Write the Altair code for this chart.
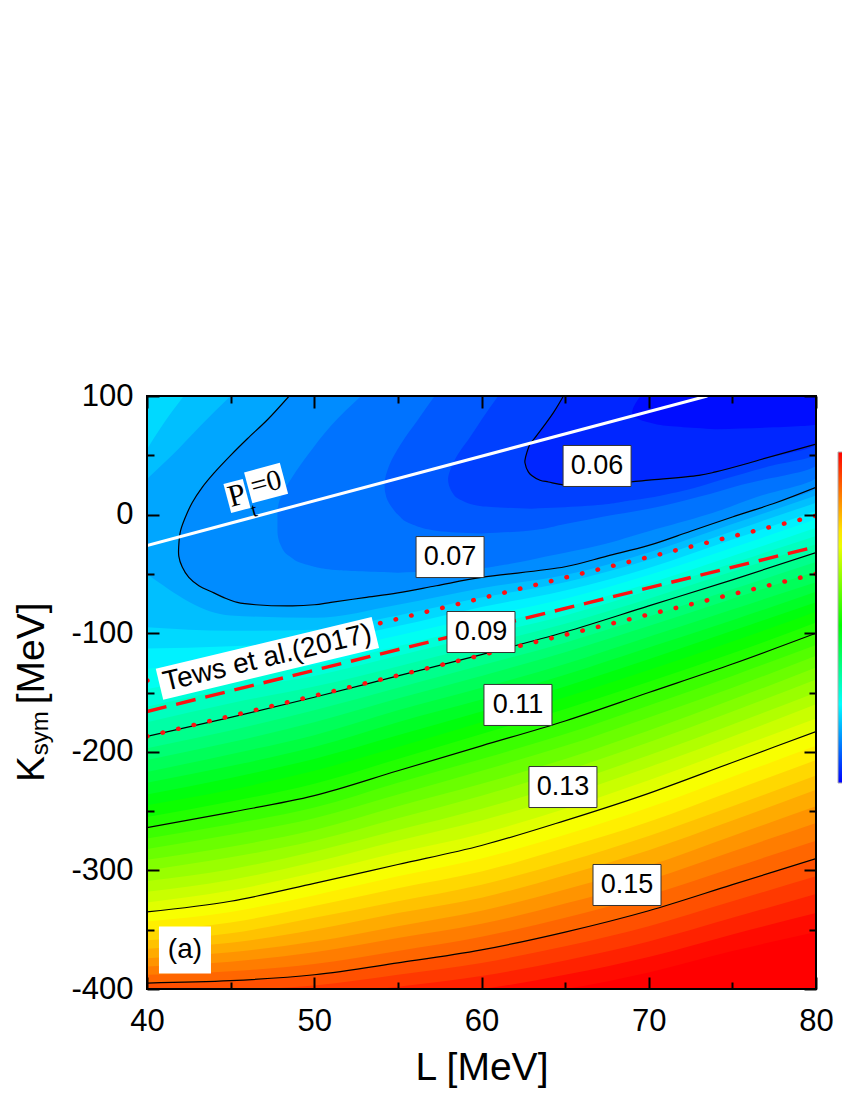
import altair as alt
import pandas as pd

FONT = "Liberation Sans"
SERIF = "Liberation Serif"

# ---------------- axes ----------------
L_range = [40, 80]
K_range = [-400, 100]
L_major = [40, 50, 60, 70, 80]
L_minor = [45, 55, 65, 75]
K_major = [-400, -300, -200, -100, 0, 100]
K_minor = [-350, -250, -150, -50, 50]

# ---------------- level lines: Ksym read at each L of L_grid ----------------
L_grid = [40, 45, 50, 55, 60, 65, 70, 75, 80]
K_0725 = [-50, -85, -87, -76, -62, -51, -32, -8, 16]
K_0750 = [-95, -98, -97, -85, -70, -57, -38, -14, 10]
K_0775 = [-113, -111, -107, -94, -78, -64, -45, -21, 3]
K_0800 = [-130, -123, -117, -102, -86, -71, -51, -28, -4]
K_0825 = [-147, -135, -127, -111, -94, -78, -58, -35, -11]
K_0850 = [-162, -147, -136, -119, -102, -85, -64, -41, -18]
K_0875 = [-175, -159, -145, -128, -110, -92, -71, -48, -25]
K_0900 = [-187, -171, -154, -136, -118, -99, -77, -55, -32]
K_0925 = [-197, -182, -165, -146, -127, -108, -86, -63, -40]
K_0950 = [-207, -192, -175, -155, -136, -116, -94, -71, -48]
K_0975 = [-217, -202, -186, -165, -146, -126, -103, -80, -57]
K_1000 = [-226, -212, -196, -175, -156, -135, -112, -89, -65]
K_1025 = [-236, -222, -206, -186, -166, -145, -122, -98, -74]
K_1050 = [-245, -232, -216, -196, -175, -154, -131, -107, -82]
K_1075 = [-255, -242, -227, -206, -185, -164, -141, -117, -91]
K_1100 = [-264, -251, -237, -216, -195, -174, -150, -126, -100]
K_1125 = [-273, -261, -247, -226, -206, -185, -161, -136, -110]
K_1150 = [-282, -270, -256, -236, -216, -195, -171, -146, -119]
K_1175 = [-291, -280, -266, -246, -227, -206, -182, -156, -129]
K_1200 = [-300, -289, -275, -256, -237, -216, -192, -166, -139]
K_1225 = [-309, -299, -284, -266, -248, -227, -203, -177, -150]
K_1250 = [-318, -308, -293, -275, -258, -237, -213, -187, -160]
K_1275 = [-327, -317, -302, -285, -269, -248, -224, -198, -172]
K_1300 = [-335, -326, -311, -295, -279, -258, -235, -209, -183]
K_1325 = [-343, -335, -321, -305, -290, -270, -247, -221, -195]
K_1350 = [-351, -344, -330, -315, -301, -281, -259, -233, -207]
K_1375 = [-359, -353, -340, -326, -312, -293, -271, -246, -220]
K_1400 = [-366, -361, -350, -336, -323, -304, -283, -258, -232]
K_1425 = [-374, -369, -360, -347, -334, -316, -296, -271, -246]
K_1450 = [-381, -377, -369, -357, -345, -328, -308, -284, -260]
K_1475 = [-388, -385, -379, -368, -356, -340, -321, -298, -275]
K_1500 = [-395, -393, -388, -378, -367, -352, -334, -312, -290]
K_1525 = [-402, -401, -397, -388, -378, -364, -347, -326, -305]
K_1550 = [-409, -409, -405, -398, -389, -376, -360, -340, -320]
K_1575 = [-417, -416, -412, -406, -400, -388, -373, -354, -336]
K_1600 = [-425, -423, -418, -414, -410, -400, -386, -368, -352]
K_1625 = [-440, -438, -432, -428, -424, -414, -399, -382, -368]
K_1650 = [-455, -452, -447, -443, -438, -428, -412, -396, -385]

levels = [0.0725, 0.0750, 0.0775, 0.0800, 0.0825, 0.0850, 0.0875, 0.0900, 0.0925, 0.0950,
          0.0975, 0.1000, 0.1025, 0.1050, 0.1075, 0.1100, 0.1125, 0.1150, 0.1175, 0.1200,
          0.1225, 0.1250, 0.1275, 0.1300, 0.1325, 0.1350, 0.1375, 0.1400, 0.1425, 0.1450,
          0.1475, 0.1500, 0.1525, 0.1550, 0.1575, 0.1600, 0.1625, 0.1650]
level_lines = [K_0725, K_0750, K_0775, K_0800, K_0825, K_0850, K_0875, K_0900, K_0925, K_0950,
               K_0975, K_1000, K_1025, K_1050, K_1075, K_1100, K_1125, K_1150, K_1175, K_1200,
               K_1225, K_1250, K_1275, K_1300, K_1325, K_1350, K_1375, K_1400, K_1425, K_1450,
               K_1475, K_1500, K_1525, K_1550, K_1575, K_1600, K_1625, K_1650]
step = 0.0025
drawn_levels = [0.090, 0.110, 0.130, 0.150]

# ---------------- valley regions: rows of Ksym with left / right L bounds ----------------
c0700_K = [-77, -76, -74, -70, -66, -60, -53, -44, -35, -26, -14, -2, 10, 23, 35, 50, 64, 80, 100]
c0700_L1 = [48.7, 46.5, 45.4, 44.6, 44.0, 43.1, 42.5, 42.1, 41.9, 41.9, 42.0, 42.3, 42.7, 43.3, 44.0, 45.0, 46.0, 47.2, 48.5]
c0700_L2 = [48.7, 50.0, 51.0, 53.0, 55.0, 57.3, 60.0, 65.0, 67.5, 70.0, 72.5, 75.0, 77.6, 80.0, 80.0, 80.0, 80.0, 80.0, 80.0]

c0675_K = [-49, -47, -42, -35, -26, -14, 0, 15, 32, 50, 75, 100]
c0675_L1 = [55.0, 51.5, 49.5, 48.5, 48.0, 47.8, 47.8, 48.0, 48.7, 49.6, 51.0, 52.8]
c0675_L2 = [55.0, 58.5, 61.5, 64.0, 67.0, 70.0, 73.5, 76.5, 80.0, 80.0, 80.0, 80.0]

c0650_K = [-16, -14, -8, 0, 5, 15, 25, 42, 60, 80, 100]
c0650_L1 = [60.0, 57.5, 55.8, 55.0, 54.7, 54.3, 54.2, 54.5, 55.2, 56.2, 57.2]
c0650_L2 = [60.0, 62.5, 65.0, 68.0, 70.0, 73.0, 75.5, 80.0, 80.0, 80.0, 80.0]

c0625_K = [5, 7, 12, 20, 30, 40, 51, 65, 80, 100]
c0625_L1 = [63.0, 60.0, 58.8, 58.2, 58.0, 58.2, 58.6, 59.3, 60.0, 61.0]
c0625_L2 = [63.0, 66.0, 69.0, 72.0, 74.5, 77.0, 80.0, 80.0, 80.0, 80.0]

c0600_K = [24, 25, 27.5, 29, 33, 36, 43.5, 46, 59.5, 63, 86, 100]
c0600_L1 = [66.5, 64.9, 64.0, 63.5, 63.0, 62.8, 62.6, 62.6, 62.9, 63.1, 64.3, 64.9]
c0600_L2 = [66.5, 67.5, 68.9, 70.0, 73.0, 74.0, 76.0, 76.6, 80.0, 80.0, 80.0, 80.0]

c0575_K = [72, 76, 85, 100]
c0575_L1 = [74.0, 70.5, 69.0, 69.5]
c0575_L2 = [74.0, 80.0, 80.0, 80.0]

# top-left corner (values above 0.0725 / 0.075 next to the left edge)
tl0725_K = [30, 50, 75, 100]
tl0725_L1 = [40.0, 40.0, 40.0, 40.0]
tl0725_L2 = [40.0, 41.5, 43.2, 45.0]
tl0750_K = [55, 75, 100]
tl0750_L1 = [40.0, 40.0, 40.0]
tl0750_L2 = [40.0, 40.9, 42.2]

# ---------------- straight lines ----------------
line_L = [40, 80]
tews_mid = [-166, -27]
tews_up = [-140, -1]
tews_lo = [-187, -50]
pt0_L = [40, 73.5]
pt0_K = [-26, 100]

# ---------------- labels ----------------
contour_text = ["0.06", "0.07", "0.09", "0.11", "0.13", "0.15"]
contour_text_L = [66.91, 58.12, 59.97, 62.18, 64.87, 68.70]
contour_text_K = [41.0, -35.8, -99.0, -160.5, -229.7, -312.3]

# ---------------- colour map ----------------
color_stops = [0.055, 0.080, 0.105, 0.132, 0.160]
color_range = ["#0000ff", "#00ffff", "#00ff00", "#ffff00", "#ff0000"]

# ================= scales & axes =================
xs = alt.Scale(domain=L_range, nice=False, zero=False)
ys = alt.Scale(domain=K_range, nice=False, zero=False)
cs = alt.Scale(domain=color_stops, range=color_range, interpolate="rgb")


def tick_axis(orient, vals, size):
    return alt.Axis(orient=orient, values=vals, tickSize=size, offset=-size, labels=False,
                    domain=False, grid=False, title=None, ticks=True, tickColor="black",
                    tickWidth=2, zindex=3)


ax_x_lab = alt.Axis(orient="bottom", values=L_major, ticks=False, tickSize=0, domain=False, grid=False,
                    labelFont=FONT, labelFontSize=31, labelColor="black", labelPadding=17,
                    labelFlush=False, labelOverlap=False, labelExpr="datum.value + ''",
                    title="L [MeV]", titleFont=FONT, titleFontSize=39, titleFontWeight="normal",
                    titleColor="black", titlePadding=12, zindex=3)
ax_y_lab = alt.Axis(orient="left", values=K_major, ticks=False, tickSize=0, domain=False, grid=False,
                    labelFont=FONT, labelFontSize=31, labelColor="black", labelPadding=14,
                    labelFlush=False, labelOverlap=False, labelExpr="datum.value + ''",
                    title=None, zindex=3)

NOAX = None
X = lambda f, ax=NOAX: alt.X(f, scale=xs, axis=ax)
Y = lambda f, ax=NOAX: alt.Y(f, scale=ys, axis=ax)

# ================= filled levels (painted from low to high value) =================
legend = alt.Legend(type="gradient", orient="none", legendX=691, legendY=56, direction="vertical",
                    title=None, gradientLength=331, gradientThickness=22, labelExpr="''",
                    labelOpacity=0, gradientStrokeColor="#b0b0b0", gradientStrokeWidth=1)

band_layers = []
tops = [[K_range[1]] * len(L_grid)] + level_lines
mids = [levels[0] - step / 2] + [lv + step / 2 for lv in levels]
for i, (t, m) in enumerate(zip(tops, mids)):
    dfb = pd.DataFrame({"L": L_grid, "Ktop": t, "Kbot": [K_range[0]] * len(L_grid),
                        "mid": [m] * len(L_grid)})
    first = i == 0
    band_layers.append(
        alt.Chart(dfb).mark_area(interpolate="monotone", clip=True).encode(
            x=X("L:Q", ax_x_lab if first else NOAX),
            y=Y("Ktop:Q", ax_y_lab if first else NOAX),
            y2="Kbot:Q",
            color=alt.Color("mid:Q", scale=cs, legend=legend if first else None),
        )
    )


def region_layer(Ks, L1s, L2s, mid, xax=NOAX, yax=NOAX):
    df = pd.DataFrame({"K": Ks, "L1": L1s, "L2": L2s, "mid": [mid] * len(Ks)})
    return alt.Chart(df).mark_area(orient="horizontal", interpolate="monotone", clip=True).encode(
        y=Y("K:Q", yax),
        x=X("L1:Q", xax),
        x2="L2:Q",
        color=alt.Color("mid:Q", scale=cs, legend=None),
    )


region_layers = [
    region_layer(tl0725_K, tl0725_L1, tl0725_L2, 0.0725 + step / 2,
                 tick_axis("top", L_minor, 7), tick_axis("right", K_minor, 7)),
    region_layer(tl0750_K, tl0750_L1, tl0750_L2, 0.0750 + step / 2,
                 tick_axis("top", L_major, 12), tick_axis("right", K_major, 12)),
    region_layer(c0700_K, c0700_L1, c0700_L2, 0.0700 - step / 2,
                 tick_axis("bottom", L_major, 12), tick_axis("left", K_major, 12)),
    region_layer(c0675_K, c0675_L1, c0675_L2, 0.0675 - step / 2,
                 tick_axis("bottom", L_minor, 7), tick_axis("left", K_minor, 7)),
    region_layer(c0650_K, c0650_L1, c0650_L2, 0.0650 - step / 2),
    region_layer(c0625_K, c0625_L1, c0625_L2, 0.0625 - step / 2),
    region_layer(c0600_K, c0600_L1, c0600_L2, 0.0600 - step / 2),
    region_layer(c0575_K, c0575_L1, c0575_L2, 0.0575 - step / 2),
]

# ================= contour lines =================
crow = []
for lv, ks in zip(levels, level_lines):
    if any(abs(lv - d) < 1e-9 for d in drawn_levels):
        for L, k in zip(L_grid, ks):
            crow.append({"lev": lv, "L": L, "K": k})
df_clines = pd.DataFrame(crow)


def c_path(name, Ks, L1s, L2s):
    pts = []
    n = len(Ks)
    for i in range(n - 1, -1, -1):
        pts.append((L1s[i], Ks[i]))
    for i in range(1, n):
        pts.append((L2s[i], Ks[i]))
        if L2s[i] >= L_range[1]:
            break
    return pd.DataFrame({"name": name, "idx": list(range(len(pts))),
                         "L": [p[0] for p in pts], "K": [p[1] for p in pts]})


df_cpaths = pd.concat([c_path("c07", c0700_K, c0700_L1, c0700_L2),
                       c_path("c06", c0600_K, c0600_L1, c0600_L2)])

clines = alt.Chart(df_clines).mark_line(interpolate="monotone", color="black", strokeWidth=1.2,
                                        clip=True).encode(x=X("L:Q"), y=Y("K:Q"), detail="lev:N")
cpaths = alt.Chart(df_cpaths).mark_line(interpolate="catmull-rom", color="black", strokeWidth=1.2,
                                        clip=True).encode(x=X("L:Q"), y=Y("K:Q"), detail="name:N",
                                                          order="idx:Q")

# ================= straight lines =================
df_dot = pd.DataFrame({"L": line_L * 2, "K": tews_up + tews_lo, "which": ["up", "up", "lo", "lo"]})
df_dash = pd.DataFrame({"L": line_L, "K": tews_mid})
df_pt0 = pd.DataFrame({"L": pt0_L, "K": pt0_K})

dots = alt.Chart(df_dot).mark_line(color="#ff1010", strokeWidth=4.5, strokeCap="round",
                                   strokeDash=[0.5, 15.5], clip=True).encode(
    x=X("L:Q"), y=Y("K:Q"), detail="which:N")
dash = alt.Chart(df_dash).mark_line(color="#ff1010", strokeWidth=3.4, strokeDash=[20, 10],
                                    clip=True).encode(x=X("L:Q"), y=Y("K:Q"))
pt0 = alt.Chart(df_pt0).mark_line(color="white", strokeWidth=3, clip=True).encode(
    x=X("L:Q"), y=Y("K:Q"))

# ================= labels =================
df_clab = pd.DataFrame({"t": contour_text, "L": contour_text_L, "K": contour_text_K})
BOX = "M-1,-0.603L1,-0.603L1,0.603L-1,0.603Z"
cboxes = alt.Chart(df_clab).mark_point(shape=BOX, size=68 * 68, filled=True, fill="white",
                                       stroke="#333333", strokeWidth=1, opacity=1).encode(
    x=X("L:Q"), y=Y("K:Q"))
ctexts = alt.Chart(df_clab).mark_text(font=FONT, fontSize=27, color="black", align="center",
                                      baseline="middle").encode(x=X("L:Q"), y=Y("K:Q"), text="t:N")


def box(L, K, path, size, angle=0):
    return alt.Chart(pd.DataFrame({"L": [L], "K": [K]})).mark_point(
        shape=path, size=size, angle=angle, filled=True, fill="white", strokeWidth=0,
        opacity=1).encode(x=X("L:Q"), y=Y("K:Q"))


def label(L, K, text, font, size, angle=0, align="center"):
    return alt.Chart(pd.DataFrame({"L": [L], "K": [K], "s": [text]})).mark_text(
        font=font, fontSize=size, color="black", align=align, baseline="middle",
        angle=angle).encode(x=X("L:Q"), y=Y("K:Q"), text="s:N")


a_box = box(42.27, -367.1, "M-1,-0.904L1,-0.904L1,0.904L-1,0.904Z", 52 * 52)
a_text = label(42.27, -367.1, "(a)", FONT, 28)
tews_box = box(47.2, -121.2, "M-1,-0.144L1,-0.144L1,0.144L-1,0.144Z", 222 * 222, 346.5)
tews_text = label(47.2, -121.2, "Tews et al.(2017)", FONT, 28, 346.5)
p_box = box(45.38, 15.7, "M-1,-1.5L1,-1.5L1,1.5L-1,1.5Z", 400, 345)
eq_box = box(47.12, 26.6, "M-1,-0.865L1,-0.865L1,0.865L-1,0.865Z", 1369, 345)
p_text = label(45.38, 15.7, "P", SERIF, 31, 345)
eq_text = label(47.12, 26.6, "=0", SERIF, 29, 345)
t_text = label(46.40, 3.5, "t", SERIF, 20, 345)

frame = alt.Chart(pd.DataFrame({"L1": [L_range[0]], "L2": [L_range[1]],
                                "K1": [K_range[0]], "K2": [K_range[1]]})).mark_rect(
    fill=None, filled=False, stroke="black", strokeWidth=2).encode(
    x=X("L1:Q"), x2="L2:Q", y=Y("K1:Q"), y2="K2:Q")

ytitle_K = label(33.12, -225.5, "K", FONT, 39, 270, "left")
ytitle_sub = label(33.66, -203.0, "sym", FONT, 24, 270, "left")
ytitle_unit = label(33.12, -160.0, "[MeV]", FONT, 39, 270, "left")

chart = alt.layer(
    *band_layers, *region_layers, clines, cpaths, dots, dash, pt0,
    cboxes, ctexts, a_box, a_text, tews_box, tews_text, p_box, eq_box, p_text, eq_text, t_text,
    frame, ytitle_K, ytitle_sub, ytitle_unit,
).resolve_axis(x="independent", y="independent").properties(
    width=669, height=593,
    padding={"left": 139, "top": 388, "right": 26, "bottom": 100},
    autosize=alt.AutoSizeParams(type="none"),
).configure_view(stroke=None).configure(font=FONT)

chart.save("out.html", embed_options={"renderer": "svg", "actions": False})
